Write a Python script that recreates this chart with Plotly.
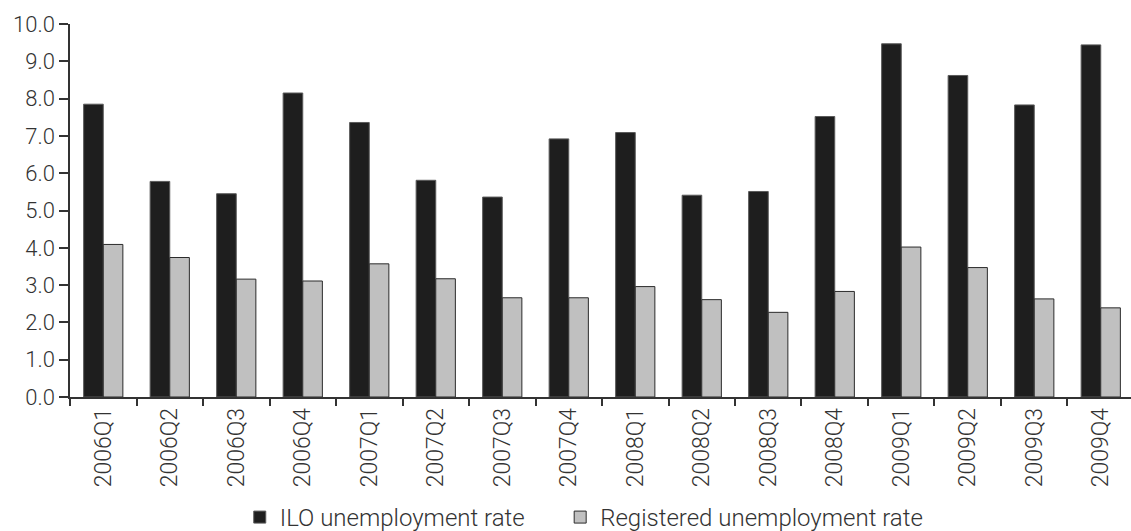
import plotly.graph_objects as go

quarters = ["2006Q1", "2006Q2", "2006Q3", "2006Q4",
            "2007Q1", "2007Q2", "2007Q3", "2007Q4",
            "2008Q1", "2008Q2", "2008Q3", "2008Q4",
            "2009Q1", "2009Q2", "2009Q3", "2009Q4"]
ilo_rate = [7.85, 5.78, 5.45, 8.15,
            7.36, 5.81, 5.36, 6.92,
            7.09, 5.41, 5.51, 7.52,
            9.47, 8.62, 7.83, 9.44]
registered_rate = [4.09, 3.74, 3.16, 3.11,
                   3.57, 3.17, 2.66, 2.66,
                   2.96, 2.61, 2.27, 2.83,
                   4.02, 3.47, 2.63, 2.39]

FONT = "Roboto"
TXT = "#333333"

fig = go.Figure()
fig.add_trace(go.Bar(
    x=quarters, y=ilo_rate, name="ILO unemployment rate",
    marker=dict(color="#1e1e1e", line=dict(color="#5a5a5a", width=1)),
    legend="legend",
))
fig.add_trace(go.Bar(
    x=quarters, y=registered_rate, name="Registered unemployment rate",
    marker=dict(color="#c0c0c0", line=dict(color="#2b2b2b", width=1)),
    legend="legend2",
))

legend_style = dict(orientation="h", xanchor="left",
                    y=-0.323, yanchor="middle",
                    font=dict(family=FONT, size=24, color=TXT, weight=300),
                    itemwidth=30, bgcolor="rgba(0,0,0,0)")

fig.update_layout(
    width=1131, height=531,
    margin=dict(l=70, r=0, t=24, b=134, pad=0, autoexpand=False),
    paper_bgcolor="white", plot_bgcolor="white",
    barmode="group", bargap=0.41, bargroupgap=0,
    font=dict(family=FONT, size=24, color=TXT, weight=300),
    showlegend=True,
    legend=dict(x=0.160, **legend_style),
    legend2=dict(x=0.462, **legend_style),
    xaxis=dict(type="category", range=[-0.5, 15.455],
               showline=True, linecolor="#333", linewidth=1.5,
               ticks="outside", ticklen=7, tickcolor="#333", tickwidth=1.5,
               tickson="boundaries", tickangle=-90,
               showgrid=False, zeroline=False,
               tickfont=dict(family=FONT, size=23, color=TXT, weight=300)),
    yaxis=dict(range=[0, 10], dtick=1, tickformat=".1f",
               showline=True, linecolor="#333", linewidth=1.5,
               ticks="outside", ticklen=9, tickcolor="#333", tickwidth=1.5,
               showgrid=False, zeroline=False,
               tickfont=dict(family=FONT, size=22, color=TXT, weight=300)),
)

fig.write_html("out.html")
